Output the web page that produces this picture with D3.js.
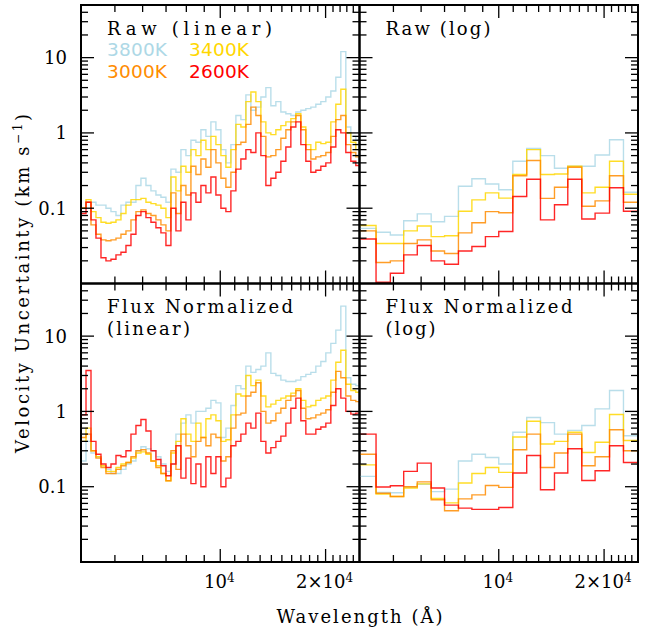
<!DOCTYPE html>
<html>
<head>
<meta charset="utf-8">
<script src="https://cdn.jsdelivr.net/npm/d3@7"></script>
<style>
  body { margin: 0; background: #fff; }
</style>
</head>
<body>
<svg id="chart" width="651" height="630"></svg>
<script>
// DATA
// bin edges of the high resolution (linear binned) spectra, in Angstrom
const waveHi = [4000, 4134, 4272, 4414, 4562, 4714, 4872, 5035, 5203, 5377, 5557, 5742, 5934, 6133, 6338, 6549, 6768, 6995, 7228, 7470, 7720, 7978, 8245, 8520, 8805, 9099, 9403, 9718, 10043, 10378, 10725, 11084, 11454, 11837, 12233, 12642, 13064, 13501, 13952, 14419, 14901, 15399, 15913, 16445, 16995, 17563, 18150, 18757, 19384, 20032, 20702, 21394, 22109, 22848, 23612, 24401, 25000];
// bin edges of the log binned spectra
const waveBin = [4000, 4460, 4900, 5350, 5850, 6410, 7000, 7670, 8380, 9160, 10000, 10970, 12020, 13160, 14430, 15750, 17270, 18850, 20730, 22720, 25000];

const temps = ["3800K", "3400K", "3000K", "2600K"];
const colors = ["#add8e6", "#ffd700", "#ff8c00", "#ff0000"];

// Raw (linear)
const rawLin3800 = [0.1, 0.12, 0.12, 0.11, 0.11, 0.1, 0.09, 0.08, 0.11, 0.12, 0.12, 0.2, 0.25, 0.2, 0.17, 0.15, 0.14, 0.12, 0.33, 0.3, 0.6, 0.5, 0.8, 0.75, 1.1, 0.9, 1.4, 1.1, 0.6, 0.4, 0.7, 1.7, 1.5, 3.2, 2.0, 2.2, 3.0, 4.0, 2.3, 2.6, 1.9, 1.8, 1.7, 1.9, 2.0, 2.1, 2.2, 2.4, 2.6, 3.0, 3.6, 5.5, 12, 1.2, 0.9, 0.8];
const rawLin3400 = [0.1, 0.13, 0.09, 0.075, 0.065, 0.063, 0.065, 0.07, 0.085, 0.11, 0.13, 0.13, 0.135, 0.12, 0.115, 0.11, 0.1, 0.075, 0.26, 0.17, 0.36, 0.3, 0.6, 0.5, 0.8, 0.6, 0.9, 0.7, 0.5, 0.35, 0.6, 1.3, 1.2, 2.6, 3.5, 2.6, 1.4, 1.0, 0.95, 1.1, 1.25, 1.4, 1.55, 1.8, 1.2, 0.7, 0.6, 0.75, 0.72, 0.75, 1.4, 2.4, 3.8, 1.0, 0.75, 0.6];
const rawLin3000 = [0.1, 0.12, 0.06, 0.045, 0.038, 0.037, 0.038, 0.04, 0.045, 0.05, 0.07, 0.09, 0.095, 0.085, 0.08, 0.07, 0.06, 0.05, 0.16, 0.085, 0.2, 0.15, 0.36, 0.28, 0.45, 0.35, 0.6, 0.4, 0.25, 0.19, 0.3, 0.7, 0.75, 1.3, 2.2, 1.7, 0.9, 0.48, 0.5, 0.6, 0.85, 1.1, 1.4, 1.7, 1.1, 0.6, 0.45, 0.48, 0.5, 0.55, 0.9, 1.5, 1.7, 0.7, 0.55, 0.48];
const rawLin2600 = [0.085, 0.12, 0.07, 0.04, 0.022, 0.02, 0.021, 0.024, 0.026, 0.032, 0.045, 0.08, 0.09, 0.075, 0.065, 0.055, 0.047, 0.032, 0.1, 0.05, 0.12, 0.07, 0.16, 0.12, 0.2, 0.16, 0.26, 0.15, 0.1, 0.09, 0.17, 0.33, 0.45, 0.6, 0.55, 1.0, 0.5, 0.2, 0.25, 0.3, 0.42, 0.65, 1.2, 1.4, 0.7, 0.42, 0.3, 0.32, 0.36, 0.4, 0.65, 1.1, 1.0, 0.55, 0.42, 0.37];

// Raw (log)
const rawLog3800 = [0.054, 0.048, 0.044, 0.068, 0.084, 0.066, 0.078, 0.196, 0.246, 0.21, 0.176, 0.42, 0.62, 0.50, 0.34, 0.36, 0.36, 0.51, 0.81, 0.163];
const rawLog3400 = [0.059, 0.034, 0.034, 0.050, 0.058, 0.042, 0.043, 0.091, 0.129, 0.16, 0.136, 0.28, 0.60, 0.28, 0.285, 0.36, 0.16, 0.19, 0.42, 0.153];
const rawLog3000 = [0.050, 0.019, 0.020, 0.034, 0.038, 0.027, 0.025, 0.047, 0.064, 0.09, 0.087, 0.27, 0.43, 0.135, 0.19, 0.35, 0.106, 0.125, 0.27, 0.12];
const rawLog2600 = [0.039, 0.0104, 0.0137, 0.024, 0.032, 0.020, 0.018, 0.027, 0.031, 0.042, 0.049, 0.143, 0.243, 0.070, 0.111, 0.243, 0.072, 0.086, 0.187, 0.091];

// Flux Normalized (linear)
const normLin3800 = [0.22, 0.4, 0.28, 0.25, 0.19, 0.17, 0.15, 0.15, 0.17, 0.2, 0.22, 0.3, 0.34, 0.32, 0.3, 0.25, 0.2, 0.16, 0.2, 0.5, 0.7, 0.9, 0.7, 1.0, 1.0, 1.1, 1.4, 1.3, 0.45, 0.6, 1.2, 2.2, 2.0, 4.0, 3.3, 3.6, 4.0, 6.0, 3.2, 3.0, 2.6, 2.5, 2.5, 2.6, 2.9, 3.1, 3.3, 4.0, 4.6, 6.0, 8.0, 12, 25, 2.8, 2.3, 2.2];
const normLin3400 = [0.4, 0.6, 0.3, 0.25, 0.19, 0.16, 0.16, 0.18, 0.2, 0.21, 0.24, 0.28, 0.29, 0.27, 0.22, 0.19, 0.15, 0.12, 0.28, 0.4, 0.8, 0.5, 0.4, 0.7, 0.45, 0.8, 0.9, 0.75, 0.4, 0.42, 0.9, 1.7, 1.6, 3.0, 2.2, 2.6, 1.6, 1.15, 1.25, 1.4, 1.5, 1.6, 1.75, 2.0, 1.4, 1.15, 1.2, 1.4, 1.5, 1.6, 2.6, 4.5, 6.5, 2.3, 1.9, 1.8];
const normLin3000 = [0.45, 0.5, 0.3, 0.24, 0.18, 0.15, 0.15, 0.17, 0.19, 0.21, 0.25, 0.3, 0.31, 0.28, 0.22, 0.18, 0.15, 0.12, 0.3, 0.17, 0.5, 0.35, 0.25, 0.4, 0.45, 0.35, 0.5, 0.45, 0.22, 0.25, 0.6, 0.9, 0.95, 1.6, 1.8, 2.4, 1.0, 0.7, 0.75, 0.95, 1.1, 1.4, 1.6, 1.9, 1.1, 0.8, 0.82, 0.9, 0.95, 1.05, 1.8, 3.4, 2.8, 1.6, 1.4, 1.35];
const normLin2600 = [0.9, 3.5, 0.4, 0.27, 0.2, 0.18, 0.2, 0.26, 0.25, 0.3, 0.5, 0.65, 0.78, 0.55, 0.3, 0.23, 0.19, 0.14, 0.2, 0.35, 0.13, 0.24, 0.11, 0.2, 0.1, 0.25, 0.15, 0.25, 0.1, 0.13, 0.35, 0.4, 0.5, 0.7, 0.6, 0.95, 0.4, 0.28, 0.33, 0.4, 0.47, 0.7, 1.1, 1.5, 0.75, 0.5, 0.5, 0.58, 0.62, 0.7, 1.2, 2.0, 1.5, 1.0, 0.92, 0.95];

// Flux Normalized (log)
const normLog3800 = [0.137, 0.084, 0.083, 0.099, 0.108, 0.086, 0.093, 0.22, 0.27, 0.244, 0.20, 0.53, 0.83, 0.71, 0.50, 0.56, 0.65, 1.08, 1.90, 0.475];
const normLog3400 = [0.195, 0.080, 0.074, 0.096, 0.109, 0.070, 0.061, 0.112, 0.15, 0.18, 0.155, 0.457, 0.74, 0.37, 0.40, 0.53, 0.285, 0.39, 0.91, 0.41];
const normLog3000 = [0.27, 0.082, 0.074, 0.10, 0.116, 0.067, 0.048, 0.069, 0.078, 0.104, 0.098, 0.31, 0.50, 0.18, 0.28, 0.50, 0.19, 0.25, 0.57, 0.30];
const normLog2600 = [0.50, 0.099, 0.103, 0.16, 0.206, 0.096, 0.057, 0.052, 0.050, 0.050, 0.053, 0.152, 0.26, 0.091, 0.152, 0.32, 0.121, 0.163, 0.35, 0.21];

const yLabels = [0.1, 1, 10];
const xLabels = [10000, 20000];

// LAYOUT
const svg = d3.select("#chart");
const marginLeft = 81, marginTop = 5, pw = 278.5, ph = 278.5;
const serif = "'DejaVu Serif', serif";

const x = d3.scaleLog().domain([4000, 25000]).range([0, pw]);
const y = d3.scaleLog().domain([0.01, 50]).range([ph, 0]);

svg.append("rect").attr("width", 651).attr("height", 630).attr("fill", "#fff");

const panels = [
  { col: 0, row: 0, edges: waveHi, series: [rawLin3800, rawLin3400, rawLin3000, rawLin2600], title: ["Raw (linear)"], widths: [165] },
  { col: 1, row: 0, edges: waveBin, series: [rawLog3800, rawLog3400, rawLog3000, rawLog2600], title: ["Raw (log)"], widths: [105] },
  { col: 0, row: 1, edges: waveHi, series: [normLin3800, normLin3400, normLin3000, normLin2600], title: ["Flux Normalized", "(linear)"], widths: [186, 83] },
  { col: 1, row: 1, edges: waveBin, series: [normLog3800, normLog3400, normLog3000, normLog2600], title: ["Flux Normalized", "(log)"], widths: [187, 50] },
];

const line = d3.line()
  .x((d) => x(d[0]))
  .y((d) => y(d[1]))
  .curve(d3.curveStepAfter);

const xTicks = d3.range(5000, 25000, 1000);
const yTicks = y.ticks().filter((v) => v > 0.01 && v < 50);

panels.forEach((p, pi) => {
  const g = svg.append("g")
    .attr("transform", `translate(${marginLeft + p.col * pw},${marginTop + p.row * ph})`);

  g.append("clipPath").attr("id", "clip" + pi)
    .append("rect").attr("width", pw).attr("height", ph);

  // spectra
  p.series.forEach((vals, si) => {
    const pts = vals.map((v, i) => [p.edges[i], v]);
    pts.push([p.edges[p.edges.length - 1], vals[vals.length - 1]]);
    g.append("path")
      .attr("clip-path", `url(#clip${pi})`)
      .attr("d", line(pts))
      .attr("fill", "none")
      .attr("stroke", colors[si])
      .attr("stroke-opacity", 0.85)
      .attr("stroke-width", 1.4);
  });

  // ticks, inside on all four sides
  xTicks.forEach((t) => {
    const len = xLabels.includes(t) ? 13 : 7;
    const xx = x(t);
    g.append("line").attr("x1", xx).attr("x2", xx).attr("y1", ph).attr("y2", ph - len)
      .attr("stroke", "#000").attr("stroke-width", 1.3);
    g.append("line").attr("x1", xx).attr("x2", xx).attr("y1", 0).attr("y2", len)
      .attr("stroke", "#000").attr("stroke-width", 1.3);
  });
  yTicks.forEach((t) => {
    const len = yLabels.includes(t) ? 13 : 7;
    const yy = y(t);
    g.append("line").attr("x1", 0).attr("x2", len).attr("y1", yy).attr("y2", yy)
      .attr("stroke", "#000").attr("stroke-width", 1.3);
    g.append("line").attr("x1", pw).attr("x2", pw - len).attr("y1", yy).attr("y2", yy)
      .attr("stroke", "#000").attr("stroke-width", 1.3);
  });

  g.append("rect").attr("width", pw).attr("height", ph)
    .attr("fill", "none").attr("stroke", "#000").attr("stroke-width", 2);

  // panel title
  p.title.forEach((t, ti) => {
    g.append("text")
      .attr("x", 26)
      .attr("y", 29.5 + ti * 22)
      .attr("font-family", serif)
      .attr("font-size", 18)
      .attr("textLength", p.widths[ti])
      .attr("lengthAdjust", "spacing")
      .text(t);
  });

  // y tick labels
  if (p.col === 0) {
    yLabels.forEach((v) => {
      g.append("text")
        .attr("x", -14)
        .attr("y", y(v) + 6.5)
        .attr("text-anchor", "end")
        .attr("font-family", serif)
        .attr("font-size", 18)
        .text(d3.format("~g")(v));
    });
  }

  // x tick labels
  if (p.row === 1) {
    xLabels.forEach((v) => {
      const t = g.append("text")
        .attr("x", x(v) - 1)
        .attr("y", ph + 26)
        .attr("text-anchor", "middle")
        .attr("font-family", serif)
        .attr("font-size", 18);
      const m = v / 10000;
      t.append("tspan").text(m === 1 ? "10" : m + "\u00d710");
      t.append("tspan").attr("dy", -6).attr("font-size", 12).text("4");
    });
  }
});

// legend
temps.forEach((t, i) => {
  svg.append("text")
    .attr("x", marginLeft + 26 + (i % 2) * 82)
    .attr("y", marginTop + 51 + Math.floor(i / 2) * 22)
    .attr("font-family", "'DejaVu Sans', sans-serif")
    .attr("font-size", 18.5)
    .attr("fill", colors[i])
    .attr("textLength", 60)
    .attr("lengthAdjust", "spacing")
    .text(t);
});

// axis titles
svg.append("text")
  .attr("x", marginLeft + pw)
  .attr("y", 623)
  .attr("text-anchor", "middle")
  .attr("font-family", serif)
  .attr("font-size", 18)
  .attr("textLength", 166)
  .attr("lengthAdjust", "spacing")
  .text("Wavelength (\u00c5)");

const yl = svg.append("text")
  .attr("transform", `translate(28.5,${marginTop + ph}) rotate(-90)`)
  .attr("text-anchor", "middle")
  .attr("font-family", serif)
  .attr("font-size", 18)
  .attr("textLength", 339)
  .attr("lengthAdjust", "spacing");
yl.append("tspan").text("Velocity Uncertainty (km s");
yl.append("tspan").attr("dy", -7).attr("font-size", 12).text("\u22121");
yl.append("tspan").attr("dy", 7).text(")");
</script>
</body>
</html>
